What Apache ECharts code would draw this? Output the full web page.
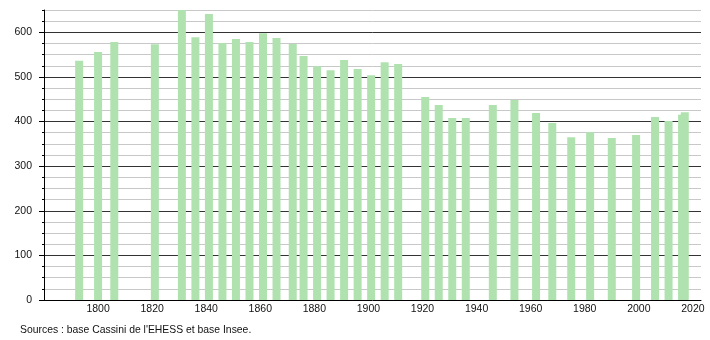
<!DOCTYPE html>
<html>
<head>
<meta charset="utf-8">
<script src="https://cdn.jsdelivr.net/npm/echarts@6/dist/echarts.min.js"></script>
<style>html,body{margin:0;padding:0;background:#fff}#c{width:710px;height:340px}</style>
</head>
<body>
<div id="c"></div>
<script>
var years = [1793,1800,1806,1821,1831,1836,1841,1846,1851,1856,1861,1866,1872,1876,1881,1886,1891,1896,1901,1906,1911,1921,1926,1931,1936,1946,1954,1962,1968,1975,1982,1990,1999,2006,2011,2016,2017];
var population = [536,556,578,573,650,589,641,576,585,578,598,587,574,547,524,515,538,518,504,533,529,455,437,408,408,437,448,419,397,365,376,363,370,410,401,415,421];
var yTicks = [0,100,200,300,400,500,600];
var xTicks = [1800,1820,1840,1860,1880,1900,1920,1940,1960,1980,2000,2020];
var sourceText = "Sources : base Cassini de l'EHESS et base Insee.";

var data = years.map(function(y,i){return [y, population[i]];});
var chart = echarts.init(document.getElementById('c'));
var font = 'Liberation Sans, Arial, sans-serif';
chart.setOption({
  animation:false,
  backgroundColor:'#fff',
  grid:{left:44, right:9, top:10, bottom:40, containLabel:false},
  xAxis:{
    type:'value', min:1780, max:2023, interval:20,
    axisLine:{show:true, lineStyle:{color:'#000', width:1}},
    axisTick:{show:false},
    splitLine:{show:false},
    axisLabel:{
      margin:4, fontSize:10.5, color:'#111', fontFamily:font,
      showMinLabel:false, showMaxLabel:false,
      formatter:function(v){return xTicks.indexOf(v)>=0 ? String(v) : '';}
    }
  },
  yAxis:[{
    type:'value', min:0, max:650, interval:25,
    axisLine:{show:false},
    axisTick:{show:true, length:2, lineStyle:{color:'#000'}},
    axisLabel:{show:false},
    splitLine:{show:true, showMinLine:false, lineStyle:{color:'#c8c8c8', width:1}}
  },{
    type:'value', min:0, max:650, interval:100, position:'left',
    axisLine:{show:true, lineStyle:{color:'#000', width:1}},
    axisTick:{show:true, length:5, lineStyle:{color:'#000'}, customValues:yTicks},
    axisLabel:{margin:12, fontSize:10.5, color:'#111', fontFamily:font, customValues:yTicks},
    splitLine:{show:true, showMinLine:false, lineStyle:{color:'#333', width:1}}
  }],
  series:[{
    type:'bar', yAxisIndex:0, data:data, barWidth:8,
    itemStyle:{color:'#b0e2b0'}, z:3
  }],
  graphic:[{
    type:'text', left:20, top:325,
    style:{text:sourceText, fontSize:10.4, fill:'#111', fontFamily:font}
  }]
});
</script>
</body>
</html>
